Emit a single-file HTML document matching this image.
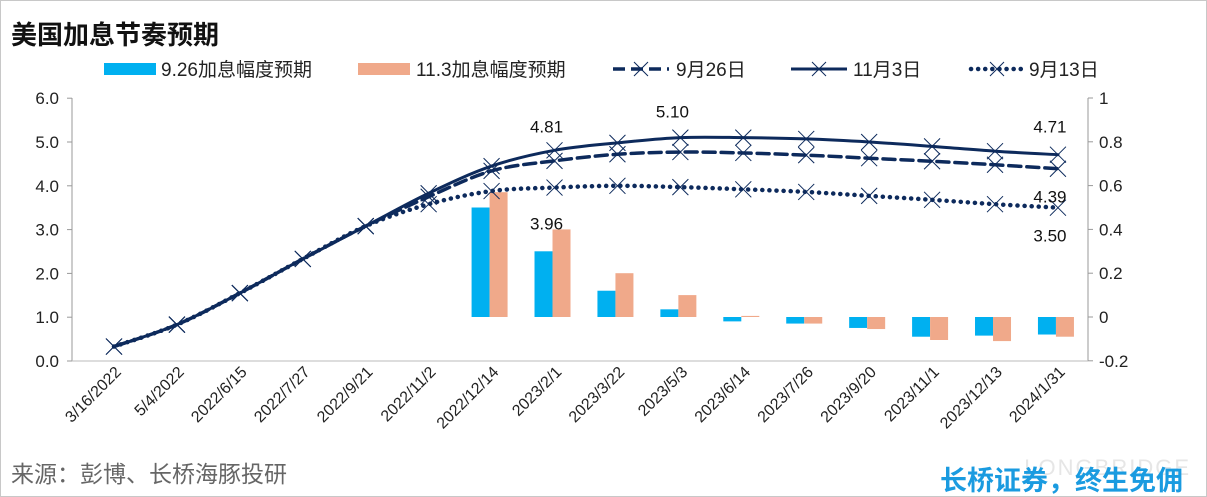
<!DOCTYPE html>
<html><head><meta charset="utf-8"><style>
body{margin:0;background:#fff;}
#wrap{position:relative;width:1205px;height:495px;border:1px solid #c8c8c8;overflow:hidden;font-family:"Liberation Sans","Noto Sans CJK SC",sans-serif;}
svg text{font-family:"Liberation Sans","Noto Sans CJK SC",sans-serif;}
</style></head><body>
<div id="wrap">
<svg id="chart" width="1207" height="497"></svg>
</div>
<script>
const categories=["3/16/2022","5/4/2022","2022/6/15","2022/7/27","2022/9/21","2022/11/2","2022/12/14","2023/2/1","2023/3/22","2023/5/3","2023/6/14","2023/7/26","2023/9/20","2023/11/1","2023/12/13","2024/1/31"];
const nov3=[0.33,0.83,1.55,2.33,3.08,3.83,4.45,4.81,4.98,5.10,5.10,5.07,5.00,4.90,4.79,4.71];
const sep26=[0.33,0.83,1.55,2.33,3.08,3.75,4.34,4.57,4.72,4.77,4.75,4.70,4.63,4.56,4.48,4.39];
const sep13=[0.33,0.83,1.55,2.33,3.08,3.58,3.88,3.96,4.00,3.97,3.92,3.86,3.77,3.68,3.58,3.50];
const hike926=[null,null,null,null,null,null,0.50,0.30,0.12,0.035,-0.02,-0.03,-0.05,-0.09,-0.085,-0.08];
const hike113=[null,null,null,null,null,null,0.57,0.40,0.20,0.10,0.005,-0.03,-0.055,-0.105,-0.11,-0.09];
const leftTicks=["0.0","1.0","2.0","3.0","4.0","5.0","6.0"];
const rightTicks=["-0.2","0","0.2","0.4","0.6","0.8","1"];
const NS="http://www.w3.org/2000/svg";
const svg=document.getElementById('chart');
function el(t,a,p){const e=document.createElementNS(NS,t);for(const k in a)e.setAttribute(k,a[k]);(p||svg).appendChild(e);return e;}
const x=i=>113+i*62.93;
const yL=v=>360-v*43.8;
const yR=v=>316-v*219;
const navy="#0d2a5c",blue="#00b0f0",orange="#f0a98a";
let t=el('text',{x:10,y:43,'font-size':26,'font-weight':'bold',fill:'#111'});t.textContent="美国加息节奏预期";

let a=el('line',{x1:71,y1:97,x2:71,y2:360,stroke:'#999'});
let a2=el('line',{x1:1087,y1:97,x2:1087,y2:360,stroke:'#999'});
let a3=el('line',{x1:71,y1:360,x2:1087,y2:360,stroke:'#bbb'});
leftTicks.forEach((s,i)=>{const y=yL(+s);el('line',{x1:66,y1:y,x2:71,y2:y,stroke:'#999'});
 const tx=el('text',{x:58,y:y+6,'font-size':17,'text-anchor':'end',fill:'#222'});tx.textContent=s;
 });
rightTicks.forEach((s,i)=>{const y=yR(+s);el('line',{x1:1087,y1:y,x2:1092,y2:y,stroke:'#999'});
 const tx=el('text',{x:1098,y:y+6,'font-size':17,fill:'#222'});tx.textContent=s;
 });
categories.forEach((c,i)=>{const tx=el('text',{x:x(i)+8,y:372,'font-size':16,'text-anchor':'end',fill:'#222',transform:`rotate(-45 ${x(i)+8} 372)`});tx.textContent=c;
 });
hike926.forEach((v,i)=>{if(v==null)return;const y0=yR(0),y1=yR(v);
 const r=el('rect',{x:x(i)-20,y:Math.min(y0,y1),width:18,height:Math.max(1,Math.abs(y1-y0)),fill:blue});
 });
hike113.forEach((v,i)=>{if(v==null)return;const y0=yR(0),y1=yR(v);
 const r=el('rect',{x:x(i)-2,y:Math.min(y0,y1),width:18,height:Math.max(1,Math.abs(y1-y0)),fill:orange});
 });
function path(d){const p=d.map((v,i)=>[x(i),yL(v)]);let s=`M${p[0][0]},${p[0][1]}`;
 for(let i=0;i<p.length-1;i++){const p0=p[i-1]||p[i],p1=p[i],p2=p[i+1],p3=p[i+2]||p2;
 s+=` C${p1[0]+(p2[0]-p0[0])/6},${p1[1]+(p2[1]-p0[1])/6} ${p2[0]-(p3[0]-p1[0])/6},${p2[1]-(p3[1]-p1[1])/6} ${p2[0]},${p2[1]}`;}return s;}
function series(d,dash,name,w){const g=el('g',{});
 el('path',{d:path(d),fill:'none',stroke:navy,'stroke-width':w,'stroke-dasharray':dash,'stroke-linecap':'round'},g);
 d.forEach((v,i)=>{const cx=x(i),cy=yL(v);el('path',{d:`M${cx-8},${cy-8}L${cx+8},${cy+8}M${cx-8},${cy+8}L${cx+8},${cy-8}`,stroke:navy,'stroke-width':1},g);});}
series(sep13,'0.1 7','line-sep-13',4.5);
series(sep26,'12 6','line-sep-26',3.5);
series(nov3,'','line-nov-3',3);
[[7,nov3,-18,'4.81'],[9,nov3,-20,'5.10'],[15,nov3,-22,'4.71'],[7,sep13,42,'3.96'],[15,sep26,34,'4.39'],[15,sep13,34,'3.50']].forEach(l=>{
 const tx=el('text',{x:x(l[0])-8,y:yL(l[1][l[0]])+l[2],'font-size':17,'text-anchor':'middle',fill:'#111'});tx.textContent=l[3];
 });
const lg=el('g',{});
el('rect',{x:103,y:62,width:52,height:12,fill:blue},lg);
el('rect',{x:357,y:62,width:52,height:12,fill:orange},lg);
el('line',{x1:612,y1:68,x2:668,y2:68,stroke:navy,'stroke-width':3.5,'stroke-dasharray':'12 6'},lg);
el('line',{x1:790,y1:68,x2:846,y2:68,stroke:navy,'stroke-width':3},lg);
el('line',{x1:970,y1:68,x2:1022,y2:68,stroke:navy,'stroke-width':4.5,'stroke-dasharray':'0.1 7','stroke-linecap':'round'},lg);
[640,818,996].forEach(c=>el('path',{d:`M${c-7},${61}L${c+7},${75}M${c-7},${75}L${c+7},${61}`,stroke:navy,'stroke-width':1},lg));
[[160,'9.26加息幅度预期'],[415,'11.3加息幅度预期'],[675,'9月26日'],[852,'11月3日'],[1028,'9月13日']].forEach(l=>{
 const tx=el('text',{x:l[0],y:75,'font-size':19,fill:'#222'},lg);tx.textContent=l[1];
 });
let f=el('text',{x:10,y:481,'font-size':23,fill:'#666'});f.textContent="来源：彭博、长桥海豚投研";

let f3=el('text',{x:1190,y:474,'font-size':22,'text-anchor':'end',fill:'#e6e6e6','letter-spacing':2});f3.textContent="LONGBRIDGE";

let f2=el('text',{x:1182,y:489,'font-size':27,'font-weight':'bold','text-anchor':'end',fill:'#1a9be0'});f2.textContent="长桥证券，终生免佣";

</script>
</body></html>
